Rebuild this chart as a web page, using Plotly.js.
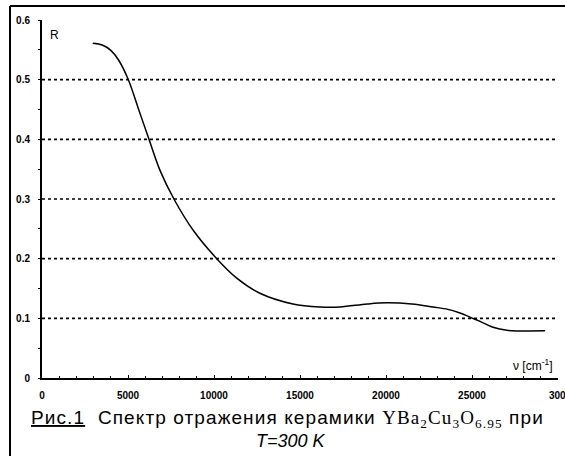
<!DOCTYPE html>
<html>
<head>
<meta charset="utf-8">
<script src="https://cdn.plot.ly/plotly-3.0.1.min.js"></script>
<style>html,body{margin:0;padding:0;background:#fff;}#chart{width:565px;height:456px;}</style>
</head>
<body>
<div id="chart"></div>
<script>
const wavenumber = [2950, 3500, 4000, 4450, 5020, 5620, 6220, 6860, 7670, 8780, 10160, 11340, 12670, 14590, 16160, 17330, 18900, 20060, 21500, 22730, 23600, 24300, 24880, 25470, 26220, 27030, 29250];
const reflectance = [0.561, 0.558, 0.549, 0.533, 0.5, 0.45, 0.4, 0.348, 0.3, 0.248, 0.2, 0.167, 0.142, 0.124, 0.119, 0.119, 0.124, 0.126, 0.124, 0.119, 0.115, 0.109, 0.102, 0.095, 0.085, 0.080, 0.079];
const xTickVals = [0, 5000, 10000, 15000, 20000, 25000];
const xTickText = ["0", "5000", "10000", "15000", "20000", "25000"];
const xCutLabel = "300";
const yTickVals = [0, 0.1, 0.2, 0.3, 0.4, 0.5, 0.6];
const yTickText = ["0", "0.1", "0.2", "0.3", "0.4", "0.5", "0.6"];
const gridLevels = [0.1, 0.2, 0.3, 0.4, 0.5];

const tickFont = {family: "Liberation Sans Narrow, Arial Narrow, Arial", size: 10, color: "#000", weight: "bold"};

const shapes = gridLevels.map(v => ({
  type: "line", xref: "paper", yref: "y", x0: 0, x1: 1, y0: v, y1: v,
  line: {color: "#000", width: 1.6, dash: "dot"}
}));
// outer frame
shapes.push({type: "line", xref: "paper", yref: "paper", x0: -0.062, x1: 1.02, y0: 1.039, y1: 1.039, line: {color: "#000", width: 2}});
shapes.push({type: "line", xref: "paper", yref: "paper", x0: -0.062, x1: -0.062, y0: 1.039, y1: -0.23, line: {color: "#000", width: 2}});

const trace = {
  x: wavenumber, y: reflectance, type: "scatter", mode: "lines",
  line: {color: "#000", width: 1.5, shape: "spline", smoothing: 1.0},
  hoverinfo: "skip"
};

const layout = {
  width: 565, height: 456,
  margin: {l: 42, r: 7, t: 20, b: 78},
  paper_bgcolor: "#fff", plot_bgcolor: "#fff",
  showlegend: false,
  xaxis: {
    range: [0, 30000], showgrid: false, zeroline: false,
    showline: true, linecolor: "#000", linewidth: 2,
    tickmode: "array", tickvals: xTickVals, ticktext: xTickText,
    ticks: "inside", ticklen: 3, tickcolor: "#000", tickwidth: 1,
    minor: {dtick: 1000, ticks: "inside", ticklen: 2, tickcolor: "#000"},
    tickfont: tickFont, ticklabelstandoff: 7
  },
  yaxis: {
    range: [0, 0.6], showgrid: false, zeroline: false,
    showline: true, linecolor: "#000", linewidth: 2,
    tickmode: "array", tickvals: yTickVals, ticktext: yTickText,
    ticks: "outside", ticklen: 2, tickcolor: "#000",
    minor: {dtick: 0.05, ticks: "outside", ticklen: 2, tickcolor: "#000"},
    tickfont: tickFont, ticklabelstandoff: 6
  },
  shapes: shapes,
  annotations: [
    {xref: "paper", yref: "paper", x: 1.02, y: -0.048, xanchor: "right", yanchor: "middle",
     text: xCutLabel, showarrow: false, font: tickFont},
    {xref: "paper", yref: "paper", x: 0.012, y: 0.958, xanchor: "left", yanchor: "middle",
     text: "R", showarrow: false, font: {family: "Arial", size: 12, color: "#000"}},
    {xref: "paper", yref: "paper", x: 0.992, y: 0.035, xanchor: "right", yanchor: "middle",
     text: "ν [cm<sup>-1</sup>]", showarrow: false, font: {family: "Arial", size: 12, color: "#000"}},
    {xref: "paper", yref: "paper", x: 0.476, y: -0.115, xanchor: "center", yanchor: "middle",
     text: "<span style='letter-spacing:1.1px'><u>Рис.1</u>  Спектр отражения керамики <span style='font-family:Liberation Serif, Times New Roman;letter-spacing:1.1px'>YBa<sub>2</sub>Cu<sub>3</sub>O<sub>6.95</sub></span> при</span>",
     showarrow: false, font: {family: "Arial", size: 19, color: "#000"}},
    {xref: "paper", yref: "paper", x: 0.482, y: -0.177, xanchor: "center", yanchor: "middle",
     text: "<i>T=300 K</i>", showarrow: false, font: {family: "Arial", size: 18, color: "#000"}}
  ]
};

Plotly.newPlot("chart", [trace], layout, {staticPlot: true, displayModeBar: false});
</script>
</body>
</html>
